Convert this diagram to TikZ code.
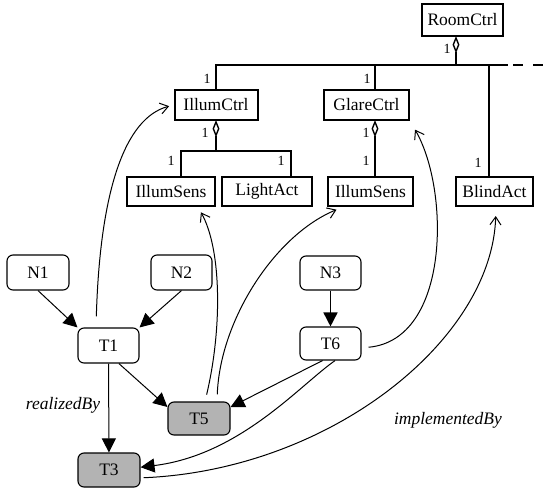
\documentclass[tikz,border=0pt]{standalone}
\usepackage{fontspec}
\setmainfont{Liberation Serif}
\usetikzlibrary{arrows.meta,shapes.geometric}
\definecolor{shade}{RGB}{179,179,179}
\begin{document}
\begin{tikzpicture}[x=1pt,y=-1pt,
  umlbox/.style={draw,line width=2pt,inner sep=0pt,minimum height=30pt,font=\fontsize{17.5}{20}\selectfont},
  umlline/.style={line width=2pt},
  agg/.style={diamond,draw,line width=1.4pt,inner sep=0pt,minimum width=6pt,minimum height=14pt,anchor=north},
  mult/.style={inner sep=0pt,font=\fontsize{14}{16}\selectfont},
  task/.style={draw,rounded corners=6pt,line width=1.1pt,inner sep=0pt,minimum width=61pt,minimum height=34pt,font=\fontsize{17.5}{20}\selectfont},
  done/.style={task,fill=shade},
  flow/.style={line width=1pt,-{Triangle[length=14pt,width=14pt]}},
  refine/.style={line width=1pt,-{Straight Barb[length=8pt,width=11pt]}},
  lab/.style={font=\fontsize{17.5}{20}\selectfont\itshape,inner sep=0pt}
]
\useasboundingbox (0,0) rectangle (549,488);

% UML classes
\node[umlbox,minimum width=81pt,minimum height=32pt] (room) at (462.5,20) {RoomCtrl};
\node[umlbox,minimum width=83pt] (illum) at (216,105) {IllumCtrl};
\node[umlbox,minimum width=85pt] (glare) at (366.5,105) {GlareCtrl};
\node[umlbox,minimum width=88pt,minimum height=29pt] (isens) at (171,191.5) {IllumSens};
\node[umlbox,minimum width=90pt,minimum height=29pt] (lact) at (267,191.5) {LightAct};
\node[umlbox,minimum width=85pt,minimum height=29pt] (gsens) at (370.5,191.5) {IllumSens};
\node[umlbox,minimum width=77pt,minimum height=29pt] (blind) at (494.5,191.5) {BlindAct};

% helper coordinates
\coordinate (rx) at (456,0);
\coordinate (gx) at (375,0);
\coordinate (bx) at (489,0);
\coordinate (lx) at (181,0);
\coordinate (rx2) at (291,0);
\coordinate (busy) at (0,65);
\coordinate (sby) at (0,151);
\coordinate (busR) at (508,65);
\coordinate (dashA) at (513,65);
\coordinate (dashB) at (543,65);

% aggregation diamonds
\node[agg] (d0) at (room.south -| rx) {};
\node[agg] (d1) at (illum.south) {};
\node[agg] (d2) at (glare.south -| gx) {};

% tree lines
\draw[umlline] (d0.south) -- (d0.south |- busy);
\draw[umlline] (illum.north) |- (busR);
\draw[umlline,dash pattern=on 10pt off 10pt] (dashA) -- (dashB);
\draw[umlline] (glare.north -| gx) -- (gx |- busy);
\draw[umlline] (blind.north -| bx) -- (bx |- busy);
\draw[umlline] (d1.south) -- (d1.south |- sby);
\draw[umlline] (isens.north -| lx) |- (sby -| rx2) -- (lact.north -| rx2);
\draw[umlline] (d2.south) -- (gsens.north -| gx);

% multiplicities
\node[mult] (m0) at (447,49) {1};
\node[mult] (m1) at (207,79) {1};
\node[mult] (m2) at (367,79) {1};
\node[mult] (m3) at (478,163) {1};
\node[mult] (m4) at (205,133) {1};
\node[mult] (m5) at (171,161) {1};
\node[mult] (m6) at (281,161) {1};
\node[mult] (m7) at (366,133) {1};
\node[mult] (m8) at (366,161) {1};

% task nodes
\node[task,minimum width=62pt,minimum height=35pt] (n1) at (38,272.5) {N1};
\node[task,minimum height=35pt] (n2) at (181.5,272.5) {N2};
\node[task,minimum height=35pt] (t1) at (108.5,345.5) {T1};
\node[done,minimum width=62pt,minimum height=33pt] (t5) at (199,418.5) {T5};
\node[done,minimum width=62pt] (t3) at (109,470) {T3};
\node[task] (n3) at (330.5,273) {N3};
\node[task,minimum height=33pt] (t6) at (330.5,343.5) {T6};

% flow edges
\draw[flow] (n1.south) -- (t1.north west);
\draw[flow] (n2.south) -- (t1.north east);
\draw[flow,line width=1.6pt] (n3) -- (t6);
\draw[flow] (t1) -- (t3);
\draw[flow] (t1.-60) -- (t5.160);
\draw[flow] (t6.-115) -- (t5.20);
\draw[flow] (t6.-75) .. controls (300,385) and (240,455) .. (t3.5);

% refinement edges
\coordinate (c1) at (96,0);
\coordinate (c2) at (205,0);
\coordinate (c3) at (217,0);
\coordinate (c4) at (198,0);
\coordinate (c5) at (343,0);
\coordinate (c6) at (496,0);
\draw[refine,shorten <=11pt,shorten >=4.5pt] (t1.north -| c1) .. controls (100,190) and (125,118) .. (illum.west);
\draw[refine,shorten <=7pt,shorten >=6pt] (t5.north -| c2) .. controls (222,330) and (222,250) .. (isens.south -| c4);
\draw[refine,shorten <=7pt,shorten >=7pt] (t5.north -| c3) .. controls (220,320) and (275,235) .. (gsens.south -| c5);
\draw[refine,shorten <=7pt,shorten >=10pt] (t6.-8) .. controls (450,340) and (450,190) .. (glare.south east);
\draw[refine,shorten <=3pt,shorten >=9pt] (t3.-14.5) .. controls (330,470) and (492,340) .. (blind.south -| c6);

% labels
\node[lab] (rb) at (63,405) {realizedBy};
\node[lab] (ib) at (448,420) {implementedBy};
\end{tikzpicture}
\end{document}
